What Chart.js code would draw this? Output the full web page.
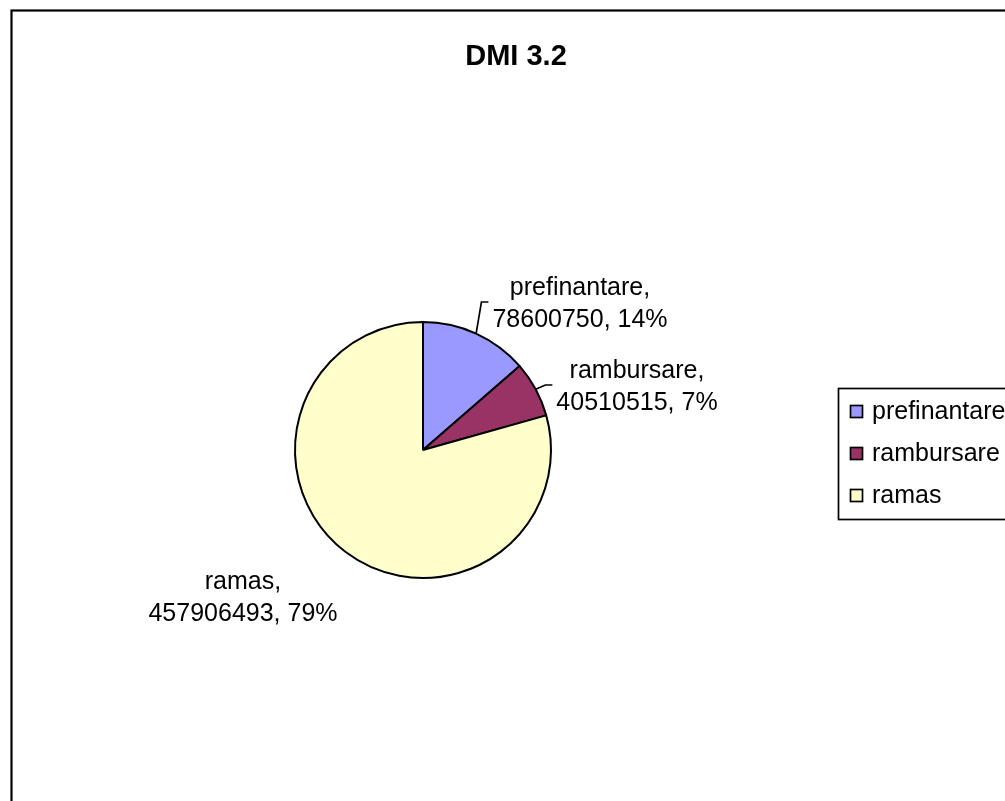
<!DOCTYPE html>
<html><head><meta charset="utf-8">
<script src="https://cdn.jsdelivr.net/npm/chart.js@4/dist/chart.umd.min.js"></script>
<style>html,body{margin:0;padding:0;background:#fff;overflow:hidden}
#wrap{position:relative;width:1005px;height:801px}</style>
</head><body><div id="wrap"><canvas id="c" width="1005" height="801"></canvas></div>
<script>
const chartTitle = 'DMI 3.2';
const categories = ['prefinantare', 'rambursare', 'ramas'];
const values = [78600750, 40510515, 457906493];
const sliceColors = ['#9999FF', '#993366', '#FFFFCC'];

const FONT = '"Liberation Sans", Arial, sans-serif';
const LINE_H = 32;
const labelLayout = [
  {cx: 580, y: 295, leader: true},
  {cx: 637, y: 378, leader: true},
  {cx: 243, y: 589, leader: false}
];
const legendBox = {x: 838.5, y: 388.5, w: 400, h: 131, rowH: 42};

const overlay = {
  id: 'overlay',
  afterDraw(chart) {
    const ctx = chart.ctx;
    ctx.save();
    // outer frame
    ctx.strokeStyle = '#000';
    ctx.lineWidth = 2.2;
    ctx.strokeRect(11.5, 10.5, 1200, 1000);
    // title
    ctx.fillStyle = '#000';
    ctx.font = 'bold 29px ' + FONT;
    ctx.textAlign = 'center';
    ctx.textBaseline = 'alphabetic';
    ctx.fillText(chartTitle, 516, 65);
    // data labels
    const meta = chart.getDatasetMeta(0);
    const total = values.reduce((a, b) => a + b, 0);
    ctx.font = '25px ' + FONT;
    meta.data.forEach((arc, i) => {
      const p = arc.getProps(['x', 'y', 'startAngle', 'endAngle', 'outerRadius'], true);
      const lines = [categories[i] + ',', values[i] + ', ' + Math.round(values[i] / total * 100) + '%'];
      const L = labelLayout[i];
      ctx.textAlign = 'center';
      ctx.fillStyle = '#000';
      lines.forEach((t, k) => ctx.fillText(t, L.cx, L.y + k * LINE_H));
      if (L.leader) {
        const w = Math.max(...lines.map(t => ctx.measureText(t).width));
        const left = L.cx - w / 2;
        const midY = (L.y - 18 + L.y + LINE_H) / 2;
        const a = (p.startAngle + p.endAngle) / 2;
        const sx = p.x + Math.cos(a) * p.outerRadius;
        const sy = p.y + Math.sin(a) * p.outerRadius;
        ctx.beginPath();
        ctx.moveTo(sx, sy);
        ctx.lineTo(left - 11, midY);
        ctx.lineTo(left - 4, midY);
        ctx.lineWidth = 1.7;
        ctx.strokeStyle = '#000';
        ctx.stroke();
      }
    });
    // legend
    const B = legendBox;
    ctx.lineWidth = 1.7;
    ctx.strokeStyle = '#000';
    ctx.fillStyle = '#fff';
    ctx.fillRect(B.x, B.y, B.w, B.h);
    ctx.strokeRect(B.x, B.y, B.w, B.h);
    ctx.textAlign = 'left';
    categories.forEach((c, i) => {
      const sy = B.y + 17 + i * B.rowH;
      ctx.fillStyle = sliceColors[i];
      ctx.fillRect(B.x + 12, sy, 12, 12);
      ctx.strokeRect(B.x + 12, sy, 12, 12);
      ctx.fillStyle = '#000';
      ctx.fillText(c, B.x + 33.5, sy + 13);
    });
    ctx.restore();
  }
};

new Chart(document.getElementById('c'), {
  type: 'pie',
  data: {
    labels: categories,
    datasets: [{
      data: values,
      backgroundColor: sliceColors,
      borderColor: '#000',
      borderWidth: 2,
      radius: 128
    }]
  },
  options: {
    responsive: false,
    animation: false,
    devicePixelRatio: 1,
    layout: {padding: {left: 223, right: 382, top: 250, bottom: 151}},
    plugins: {
      legend: {display: false},
      tooltip: {enabled: false},
      title: {display: false}
    }
  },
  plugins: [overlay]
});
</script>
</body></html>
